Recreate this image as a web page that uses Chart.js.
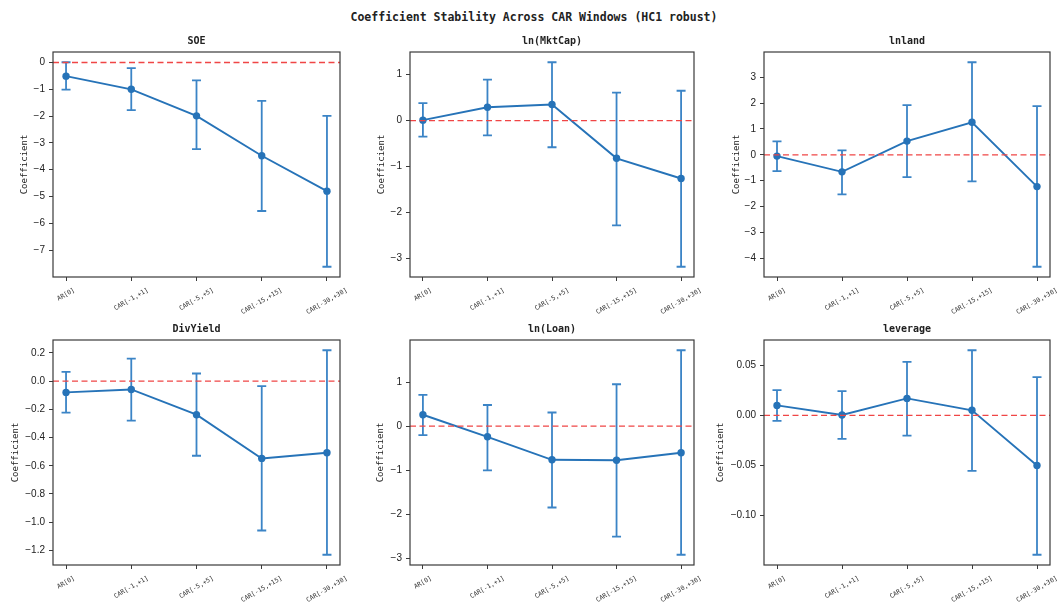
<!DOCTYPE html>
<html>
<head>
<meta charset="utf-8">
<script src="https://cdn.jsdelivr.net/npm/chart.js@4.4.1/dist/chart.umd.min.js"></script>
<style>
  body { margin: 0; background: #fff; width: 1058px; height: 602px; position: relative; overflow: hidden; }
  #mainTitle { position: absolute; left: 0; top: 10px; width: 1068px; text-align: center;
    font: bold 11.5px "DejaVu Sans Mono", monospace; color: #222; }
  .panel { position: absolute; }
</style>
</head>
<body>
<div id="mainTitle">Coefficient Stability Across CAR Windows (HC1 robust)</div>

<script>
// CAR windows (x categories)
const windows = ['AR[0]', 'CAR[-1,+1]', 'CAR[-5,+5]', 'CAR[-15,+15]', 'CAR[-30,+30]'];
const varNames = ['SOE', 'ln(MktCap)', 'lnland', 'DivYield', 'ln(Loan)', 'leverage'];

// coefficient, lower and upper CI bound per window
const soeCoef = [-0.51, -1.00, -1.99, -3.48, -4.80];
const soeLow  = [-1.01, -1.78, -3.23, -5.54, -7.62];
const soeHigh = [0.01, -0.21, -0.67, -1.43, -1.99];

const mktCapCoef = [0.01, 0.29, 0.35, -0.82, -1.26];
const mktCapLow  = [-0.35, -0.32, -0.58, -2.28, -3.18];
const mktCapHigh = [0.38, 0.89, 1.27, 0.61, 0.65];

const landCoef = [-0.05, -0.66, 0.53, 1.26, -1.23];
const landLow  = [-0.63, -1.53, -0.86, -1.03, -4.33];
const landHigh = [0.52, 0.17, 1.92, 3.58, 1.88];

const divCoef = [-0.080, -0.059, -0.238, -0.548, -0.508];
const divLow  = [-0.224, -0.280, -0.529, -1.059, -1.231];
const divHigh = [0.066, 0.160, 0.054, -0.035, 0.219];

const loanCoef = [0.26, -0.24, -0.76, -0.77, -0.60];
const loanLow  = [-0.20, -1.00, -1.84, -2.50, -2.91];
const loanHigh = [0.71, 0.48, 0.31, 0.95, 1.72];

const levCoef = [0.0099, 0.0003, 0.0169, 0.0050, -0.0500];
const levLow  = [-0.0056, -0.0235, -0.0202, -0.0553, -0.1390];
const levHigh = [0.0252, 0.0242, 0.0533, 0.0649, 0.0381];

// y tick values and labels
const soeTicks = [0, -1, -2, -3, -4, -5, -6, -7];
const soeTickLabels = ['0', '−1', '−2', '−3', '−4', '−5', '−6', '−7'];
const mktCapTicks = [1, 0, -1, -2, -3];
const mktCapTickLabels = ['1', '0', '−1', '−2', '−3'];
const landTicks = [3, 2, 1, 0, -1, -2, -3, -4];
const landTickLabels = ['3', '2', '1', '0', '−1', '−2', '−3', '−4'];
const divTicks = [0.2, 0.0, -0.2, -0.4, -0.6, -0.8, -1.0, -1.2];
const divTickLabels = ['0.2', '0.0', '−0.2', '−0.4', '−0.6', '−0.8', '−1.0', '−1.2'];
const loanTicks = [1, 0, -1, -2, -3];
const loanTickLabels = ['1', '0', '−1', '−2', '−3'];
const levTicks = [0.05, 0.00, -0.05, -0.10];
const levTickLabels = ['0.05', '0.00', '−0.05', '−0.10'];

const panels = [
    { name: varNames[0], coef: soeCoef, low: soeLow, high: soeHigh, ticks: soeTicks, labels: soeTickLabels },
    { name: varNames[1], coef: mktCapCoef, low: mktCapLow, high: mktCapHigh, ticks: mktCapTicks, labels: mktCapTickLabels },
    { name: varNames[2], coef: landCoef, low: landLow, high: landHigh, ticks: landTicks, labels: landTickLabels },
    { name: varNames[3], coef: divCoef, low: divLow, high: divHigh, ticks: divTicks, labels: divTickLabels },
    { name: varNames[4], coef: loanCoef, low: loanLow, high: loanHigh, ticks: loanTicks, labels: loanTickLabels },
    { name: varNames[5], coef: levCoef, low: levLow, high: levHigh, ticks: levTicks, labels: levTickLabels }
];

// layout
const colLeft = [53, 410, 764];
const colWidth = [287, 284, 286];
const rowTop = [52, 340];
const plotH = 225;
const yAxisW = 54;
const rightPad = 16;
const titleH = 17;
const xAxisH = 37;
// distance of the y-axis title centre from the plot's left edge
const yTitleGap = [28, 28, 27, 37, 29, 43];

const blue = '#2673b8';
const barBlue = '#3b84c6';
const frameColor = '#3a3a3a';

// error bars with caps, drawn through the chart scales
const errorBars = {
    id: 'errorBars',
    beforeDatasetsDraw(chart) {
        const ds = chart.data.datasets[1];
        const x = chart.scales.x, y = chart.scales.y;
        const ctx = chart.ctx;
        ctx.save();
        ctx.strokeStyle = barBlue;
        ctx.lineWidth = 1.8;
        ds.data.forEach((p, i) => {
            const px = x.getPixelForValue(p.x);
            const top = y.getPixelForValue(ds.errHigh[i]);
            const bot = y.getPixelForValue(ds.errLow[i]);
            ctx.beginPath();
            ctx.moveTo(px, top); ctx.lineTo(px, bot);
            ctx.moveTo(px - 4.5, top); ctx.lineTo(px + 4.5, top);
            ctx.moveTo(px - 4.5, bot); ctx.lineTo(px + 4.5, bot);
            ctx.stroke();
        });
        ctx.restore();
    }
};

// axes frame + rotated, centred x labels
const frame = {
    id: 'frame',
    afterDraw(chart) {
        const a = chart.chartArea, ctx = chart.ctx, x = chart.scales.x;
        ctx.save();
        ctx.strokeStyle = frameColor;
        ctx.lineWidth = 1.2;
        ctx.strokeRect(a.left, a.top, a.right - a.left, a.bottom - a.top);
        ctx.fillStyle = '#333';
        ctx.font = '6.4px "DejaVu Sans Mono", monospace';
        ctx.textAlign = 'center';
        ctx.textBaseline = 'middle';
        const ang = Math.PI / 6;
        windows.forEach((w, i) => {
            const px = x.getPixelForValue(i);
            const tw = ctx.measureText(w).width;
            const bh = tw * Math.sin(ang) + 6.4 * Math.cos(ang);
            const cy = a.bottom + 10 + bh / 2;
            ctx.save();
            ctx.translate(px, cy);
            ctx.rotate(-ang);
            ctx.fillText(w, 0, 0);
            ctx.restore();
        });
        ctx.restore();
    }
};

panels.forEach((p, k) => {
    const col = k % 3, row = Math.floor(k / 3);
    const w = colWidth[col] + yAxisW + rightPad;
    const h = titleH + plotH + xAxisH;

    const div = document.createElement('div');
    div.className = 'panel';
    div.style.left = (colLeft[col] - yAxisW) + 'px';
    div.style.top = (rowTop[row] - titleH) + 'px';
    div.style.width = w + 'px';
    div.style.height = h + 'px';
    const canvas = document.createElement('canvas');
    canvas.width = w;
    canvas.height = h;
    canvas.style.width = w + 'px';
    canvas.style.height = h + 'px';
    div.appendChild(canvas);
    document.body.appendChild(div);

    // matplotlib-style 5% margins
    const lo = Math.min(...p.low), hi = Math.max(...p.high);
    const pad = (hi - lo) * 0.05;

    new Chart(canvas, {
        type: 'line',
        data: {
            datasets: [
                {
                    data: [{ x: -0.2, y: 0 }, { x: 4.2, y: 0 }],
                    borderColor: '#f04646',
                    borderWidth: 1.3,
                    borderDash: [6, 3.5],
                    pointRadius: 0
                },
                {
                    data: p.coef.map((v, i) => ({ x: i, y: v })),
                    errLow: p.low,
                    errHigh: p.high,
                    borderColor: blue,
                    backgroundColor: blue,
                    borderWidth: 1.9,
                    pointRadius: 3.7,
                    pointBorderWidth: 0,
                    tension: 0
                }
            ]
        },
        options: {
            responsive: false,
            animation: false,
            layout: { padding: { left: 0, right: rightPad, top: 0, bottom: 0 } },
            plugins: {
                legend: { display: false },
                tooltip: { enabled: false },
                title: {
                    display: true,
                    fullSize: false,
                    text: p.name,
                    color: '#222',
                    font: { family: '"DejaVu Sans Mono", monospace', size: 10, weight: 'bold' },
                    padding: { top: 0, bottom: 5 }
                }
            },
            scales: {
                x: {
                    type: 'linear',
                    min: -0.2,
                    max: 4.2,
                    afterBuildTicks: s => { s.ticks = windows.map((_, i) => ({ value: i })); },
                    afterFit: s => { s.height = xAxisH; },
                    ticks: { display: false },
                    grid: { drawOnChartArea: false, drawTicks: true, tickLength: 4, color: frameColor },
                    border: { display: false }
                },
                y: {
                    min: lo - pad,
                    max: hi + pad,
                    afterBuildTicks: s => { s.ticks = p.ticks.map(v => ({ value: v })); },
                    afterFit: s => { s.width = yAxisW; },
                    ticks: {
                        callback: (v, i) => p.labels[i],
                        color: '#222',
                        padding: 4,
                        font: { family: '"Liberation Sans", Arial, sans-serif', size: 10 }
                    },
                    grid: { drawOnChartArea: false, drawTicks: true, tickLength: 4, color: frameColor },
                    border: { display: false },
                    title: {
                        display: true,
                        text: 'Coefficient',
                        color: '#222',
                        font: { family: '"DejaVu Sans Mono", monospace', size: 9 },
                        padding: { top: yAxisW - yTitleGap[k] - 5.4, bottom: 0 }
                    }
                }
            }
        },
        plugins: [errorBars, frame]
    });
});
</script>
</body>
</html>
